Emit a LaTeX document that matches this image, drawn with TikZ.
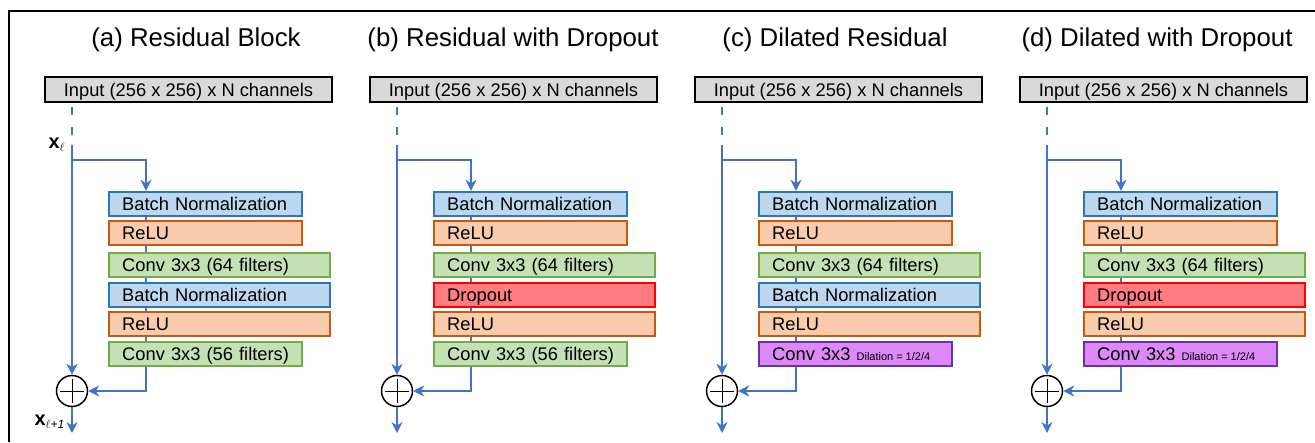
\documentclass[tikz,border=0pt]{standalone}
\usepackage{fontspec}
\setmainfont{Liberation Sans}
\usetikzlibrary{arrows.meta}
\definecolor{flowblue}{HTML}{4472C4}
\definecolor{bnfill}{HTML}{BDD7EE}
\definecolor{bnline}{HTML}{2E75B6}
\definecolor{relufill}{HTML}{F8CBAD}
\definecolor{reluline}{HTML}{C55A11}
\definecolor{convfill}{HTML}{C5E0B4}
\definecolor{convline}{HTML}{70AD47}
\definecolor{dropfill}{HTML}{FF7C80}
\definecolor{dropline}{HTML}{FF0000}
\definecolor{dilfill}{HTML}{DD88F7}
\definecolor{dilline}{HTML}{7030A0}
\definecolor{ingray}{HTML}{D9D9D9}
\tikzset{
  layer/.style = {rectangle, line width=2.4pt, anchor=west, inner xsep=13pt,
    inner ysep=0pt, minimum height=24pt, text height=13.2pt, text depth=0pt,
    align=left, font=\fontsize{18.3}{20}\selectfont},
  narrow/.style = {text width=167pt},
  wide/.style = {text width=195pt},
  bn/.style = {layer, draw=bnline, fill=bnfill},
  relu/.style = {layer, draw=reluline, fill=relufill},
  conv/.style = {layer, draw=convline, fill=convfill},
  drop/.style = {layer, draw=dropline, fill=dropfill},
  dilconv/.style = {layer, draw=dilline, fill=dilfill},
  inbox/.style = {rectangle, draw=black, fill=ingray, line width=2.4pt,
    minimum width=287pt, minimum height=25pt, inner sep=0pt,
    text height=13.2pt, text depth=0pt, font=\fontsize{18.3}{20}\selectfont},
  title/.style = {anchor=base, font=\fontsize{25.8}{28}\selectfont},
  flow/.style = {flowblue, line width=2.2pt},
  addop/.style = {circle, draw=black, line width=1.5pt, minimum size=31pt,
    inner sep=0pt, path picture={
      \draw[line width=1pt]
        ([xshift=3.5pt]path picture bounding box.west) --
        ([xshift=-3.5pt]path picture bounding box.east)
        ([yshift=-3.5pt]path picture bounding box.north) --
        ([yshift=3.5pt]path picture bounding box.south);}},
  varlabel/.style = {anchor=base west, font=\fontsize{20}{20}\selectfont\bfseries}
}
\newcommand{\dilation}{{\fontsize{11}{11}\selectfont
    Dilation\hspace{3pt}=\hspace{3pt}1/2/4}}
\newcommand{\subsc}[1]{\textsubscript{\normalfont\itshape\fontsize{12}{12}\selectfont #1}}

\begin{document}
\begin{tikzpicture}[x=1pt, y=-1pt, >={Stealth[length=11pt,width=11pt]}]
    \useasboundingbox (0,0) rectangle (1315,442);
    \draw[line width=2pt] (9,442) -- (9,11) -- (1315,11);

    % (a) residual block
    \begin{scope}
    \node[title] (ta) at (196,46) {(a) Residual Block};
    \node[inbox] (ina) at (188.5,89.5) {Input (256 x 256) x N channels};
    \node[bn, narrow] (a1) at (108,204) {Batch Normalization};
    \node[relu, narrow] (a2) at (108,233) {ReLU};
    \node[conv, wide] (a3) at (108,265) {Conv 3x3 (64 filters)};
    \node[bn, wide] (a4) at (108,295) {Batch Normalization};
    \node[relu, wide] (a5) at (108,324) {ReLU};
    \node[conv, narrow] (a6) at (108,354) {Conv 3x3 (56 filters)};
    \node[addop] (suma) at (72,391) {};
    \coordinate (xa) at (72,145);
    \coordinate (ka) at (72,160);
    \coordinate (outa) at (72,433);
    \node[varlabel] (la) at (45,148) {x\subsc{$\ell$}};
    \node[varlabel] (lb) at (31,425) {x\subsc{$\ell$+1}};
    \end{scope}

    % (b) residual with dropout
    \begin{scope}[xshift=325pt]
    \node[title] (tb) at (188,46) {(b) Residual with Dropout};
    \node[inbox] (inb) at (188.5,89.5) {Input (256 x 256) x N channels};
    \node[bn, narrow] (b1) at (108,204) {Batch Normalization};
    \node[relu, narrow] (b2) at (108,233) {ReLU};
    \node[conv, wide] (b3) at (108,265) {Conv 3x3 (64 filters)};
    \node[drop, wide] (b4) at (108,295) {Dropout};
    \node[relu, wide] (b5) at (108,324) {ReLU};
    \node[conv, narrow] (b6) at (108,354) {Conv 3x3 (56 filters)};
    \node[addop] (sumb) at (72,391) {};
    \coordinate (xb) at (72,145);
    \coordinate (kb) at (72,160);
    \coordinate (outb) at (72,433);
    \end{scope}

    % (c) dilated residual
    \begin{scope}[xshift=650pt]
    \node[title] (tc) at (185,46) {(c) Dilated Residual};
    \node[inbox] (inc) at (188.5,89.5) {Input (256 x 256) x N channels};
    \node[bn, narrow] (c1) at (108,204) {Batch Normalization};
    \node[relu, narrow] (c2) at (108,233) {ReLU};
    \node[conv, wide] (c3) at (108,265) {Conv 3x3 (64 filters)};
    \node[bn, wide] (c4) at (108,295) {Batch Normalization};
    \node[relu, wide] (c5) at (108,324) {ReLU};
    \node[dilconv, narrow] (c6) at (108,354) {Conv 3x3 \dilation};
    \node[addop] (sumc) at (72,391) {};
    \coordinate (xc) at (72,145);
    \coordinate (kc) at (72,160);
    \coordinate (outc) at (72,433);
    \end{scope}

    % (d) dilated with dropout
    \begin{scope}[xshift=975pt]
    \node[title] (td) at (182,46) {(d) Dilated with Dropout};
    \node[inbox] (ind) at (188.5,89.5) {Input (256 x 256) x N channels};
    \node[bn, narrow] (d1) at (108,204) {Batch Normalization};
    \node[relu, narrow] (d2) at (108,233) {ReLU};
    \node[conv, wide] (d3) at (108,265) {Conv 3x3 (64 filters)};
    \node[drop, wide] (d4) at (108,295) {Dropout};
    \node[relu, wide] (d5) at (108,324) {ReLU};
    \node[dilconv, narrow] (d6) at (108,354) {Conv 3x3 \dilation};
    \node[addop] (sumd) at (72,391) {};
    \coordinate (xd) at (72,145);
    \coordinate (kd) at (72,160);
    \coordinate (outd) at (72,433);
    \end{scope}

    % connectors, same for every panel
    \foreach \p in {a,b,c,d} {
        \draw[flow, dash pattern=on 8pt off 12pt]
            ([yshift=-4pt]in\p.south -| x\p) -- ([yshift=10pt]x\p);
        \draw[flow, ->] (x\p) -- (sum\p);
        \draw[flow, ->] (k\p) -| ([xshift=38pt]\p1.north west);
        \foreach \u/\v in {1/2,2/3,3/4,4/5,5/6}
            \draw[flow, line width=1.4pt] ([xshift=38pt]\p\u.south west)
                -- ([xshift=38pt]\p\v.north west);
        \draw[flow, ->] ([xshift=38pt]\p6.south west) |- (sum\p);
        \draw[flow, ->] (sum\p) -- (out\p);
    }
\end{tikzpicture}
\end{document}
